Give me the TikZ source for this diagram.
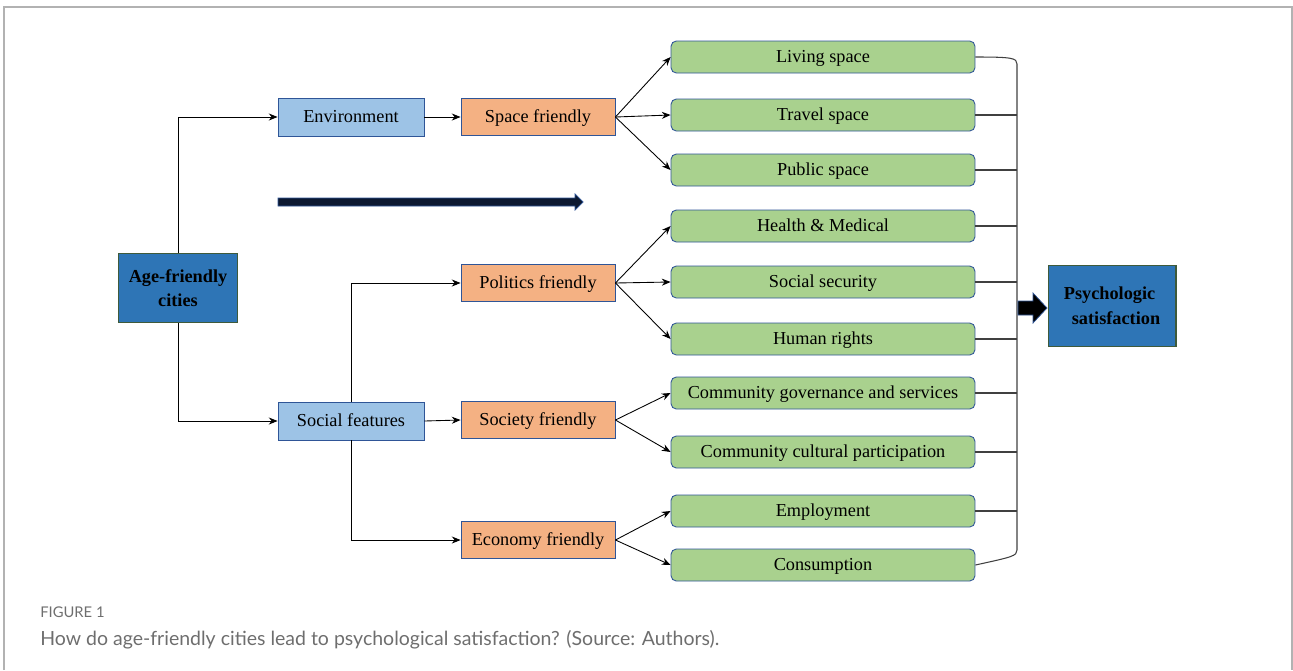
\documentclass[tikz,border=0pt]{standalone}
\usepackage{fontspec}
\setmainfont{Liberation Serif}
\newfontfamily\capfont{Lato}
\usetikzlibrary{arrows.meta}
\definecolor{darkbox}{HTML}{2E75B6}
\definecolor{lightbox}{HTML}{9DC3E6}
\definecolor{orangebox}{HTML}{F4B183}
\definecolor{greenbox}{HTML}{A9D18E}
\definecolor{edgeblue}{HTML}{2F5597}
\definecolor{edgegreen}{HTML}{3F5A3A}
\definecolor{navyfill}{HTML}{0C1830}
\definecolor{capgray}{HTML}{6E6E6E}

\begin{document}
\begin{tikzpicture}[x=0.02cm,y=-0.02cm,
  main/.style={draw=edgegreen,fill=darkbox,line width=0.6pt,
    font=\fontsize{10.4}{13.3}\selectfont\bfseries},
  aspect/.style={draw=edgeblue,fill=lightbox,line width=0.5pt,text height=1.5ex,text depth=0.2ex,
    minimum width=2.92cm,minimum height=0.76cm,font=\fontsize{10.4}{12}\selectfont},
  friendly/.style={draw=edgeblue,fill=orangebox,line width=0.5pt,text height=1.5ex,text depth=0.2ex,
    minimum width=3.08cm,minimum height=0.74cm,font=\fontsize{10.4}{12}\selectfont},
  item/.style={draw=edgeblue,fill=greenbox,line width=0.5pt,rounded corners=3pt,
    text height=1.5ex,text depth=0.2ex,
    minimum width=6.08cm,minimum height=0.64cm,font=\fontsize{10.4}{12}\selectfont},
  link/.style={-{Stealth[length=5pt,width=4pt]},line width=0.5pt},
  bar/.style={line width=0.6pt,draw=black!75}]
   \useasboundingbox (0,0) rectangle (1293,670);
   % frame
   \draw[black!30,line width=0.7pt] (4,670) -- (4,7) -- (1292,7) -- (1292,670);
   % boxes
   \node[main,align=center,minimum width=2.38cm,minimum height=1.38cm] (age) at (178,288) {Age-friendly\\cities};
   \node[main,align=left,minimum width=2.56cm,minimum height=1.62cm,
     font=\fontsize{10.4}{14.2}\selectfont\bfseries] (psy) at (1112,306) {Psychologic\\\hspace*{0.16cm}satisfaction};
   \node[aspect] (env) at (351,117) {Environment};
   \node[aspect] (soc) at (351,421) {Social features};
   \node[friendly] (spa) at (538,117) {Space friendly};
   \node[friendly] (pol) at (538,283) {Politics friendly};
   \node[friendly] (sty) at (538,420) {Society friendly};
   \node[friendly] (eco) at (538,540) {Economy friendly};
   \foreach \n/\y/\t in {liv/57/Living space, tra/115/Travel space,
     pub/170/Public space, hea/226/Health \& Medical,
     sec/282/Social security, hum/339/Human rights,
     gov/393/Community governance and services,
     cul/452/Community cultural participation,
     emp/511/Employment, con/565/Consumption}
     \node[item] (\n) at (823,\y) {\t};
   % connectors
   \draw[link] (age.north) |- (env.west);
   \draw[link] (age.south) |- (soc.west);
   \draw[link] (env.east) -- (spa.west);
   \draw[link] (soc.north) |- (pol.west);
   \draw[link] (soc.east) -- (sty.west);
   \draw[link] (soc.south) |- (eco.west);
   \foreach \n in {liv,tra,pub} \draw[link] (spa.east) -- (\n.west);
   \foreach \n in {hea,sec,hum} \draw[link] (pol.east) -- (\n.west);
   \foreach \n in {gov,cul} \draw[link] (sty.east) -- (\n.west);
   \foreach \n in {emp,con} \draw[link] (eco.east) -- (\n.west);
   % bracket
   \coordinate (btop) at (1017,64);
   \coordinate (bbot) at (1017,550);
   \draw[bar] (liv.east) .. controls (1012,57) and (1017,58) .. (btop) -- (bbot)
     .. controls (1017,556) and (1012,557) .. (con.east);
   \foreach \n in {tra,pub,hea,sec,hum,gov,cul,emp}
     \draw[bar] (\n.east) -- (\n.east -| btop);
   % arrows
   \filldraw[fill=navyfill,draw=edgeblue,line width=0.4pt]
     (278,198) -- (575,198) -- (575,194) -- (583,202) -- (575,210)
     -- (575,206) -- (278,206) -- cycle;
   \filldraw[fill=black,draw=edgeblue,line width=0.4pt]
     (1018,301) -- (1033,301) -- (1033,293) -- (1047,308) -- (1033,323)
     -- (1033,315) -- (1018,315) -- cycle;
   % caption
   \node[anchor=base west,inner sep=0pt,text=capgray,font=\capfont\fontsize{8.4}{10}\selectfont]
     (fig) at (40,617) {FIGURE 1};
   \node[anchor=base west,inner sep=0pt,text=capgray,font=\capfont\fontsize{11.1}{13}\selectfont]
     (cap) at (40,645) {How do age-friendly cities lead to psychological satisfaction? (Source: Authors).};
\end{tikzpicture}
\end{document}
